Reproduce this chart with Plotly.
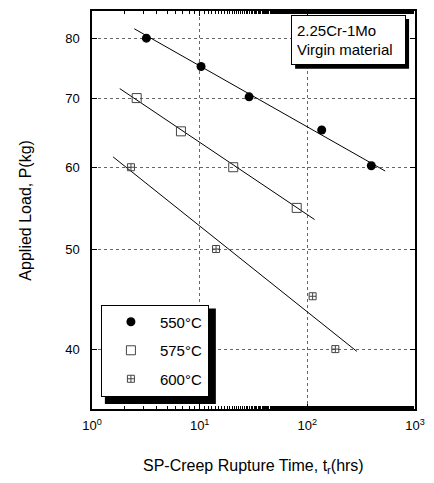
import math
import plotly.graph_objects as go

# ---- data ----
t550 = [3.2, 10.3, 28.8, 136, 393]
p550 = [80, 75.1, 70.2, 65.2, 60.2]
fit550_t = [2.47, 528]
fit550_p = [81.7, 59.5]

t575 = [2.6, 6.7, 20.5, 79.7]
p575 = [70, 65.0, 60, 54.8]
fit575_t = [1.81, 116.7]
fit575_p = [71.5, 53.4]

t600 = [2.3, 14.2, 112, 182]
p600 = [60, 50, 45.0, 40]
fit600_t = [1.57, 288]
fit600_p = [61.4, 39.8]

labels = ["550°C", "575°C", "600°C"]
x_ticks = [1, 10, 100, 1000]
x_ticktext = ["10<sup>0</sup>", "10<sup>1</sup>", "10<sup>2</sup>", "10<sup>3</sup>"]
y_ticks = [40, 50, 60, 70, 80]

FONT = "Liberation Sans, Arial, sans-serif"

fig = go.Figure()
for fx, fy in [(fit550_t, fit550_p), (fit575_t, fit575_p), (fit600_t, fit600_p)]:
    fig.add_trace(go.Scatter(x=fx, y=fy, mode="lines", line=dict(color="black", width=1),
                             showlegend=False, hoverinfo="skip"))

fig.add_trace(go.Scatter(x=t550, y=p550, mode="markers", name=labels[0], legendgroup="a",
                         marker=dict(symbol="circle", size=9, color="black")))
fig.add_trace(go.Scatter(x=t575, y=p575, mode="markers", name=labels[1], legendgroup="b",
                         marker=dict(symbol="square-open", size=9, color="#444",
                                     line=dict(width=1, color="#444"))))
fig.add_trace(go.Scatter(x=t600, y=p600, mode="markers", name=labels[2], legendgroup="c",
                         marker=dict(symbol="square-cross-open", size=7, color="#444",
                                     line=dict(width=1, color="#444"))))

L, R, T, B = 92, 16, 9, 74
W, H = 434, 483
pw, ph = W - L - R, H - T - B

def px2paper_x(px):
    return (px - L) / pw

def px2paper_y(py):
    return (H - B - py) / ph

fig.update_layout(
    width=W, height=H,
    margin=dict(l=L, r=R, t=T, b=B),
    paper_bgcolor="white", plot_bgcolor="white",
    font=dict(family=FONT, color="black", size=13),
    xaxis=dict(type="log", range=[0, 3], tickvals=x_ticks, ticktext=x_ticktext,
               ticks="inside", ticklen=5, tickcolor="black", showline=True, linecolor="black",
               linewidth=1.5, mirror="allticks", showgrid=True, gridcolor="#666",
               griddash="dot", gridwidth=1, zeroline=False,
               minor=dict(ticks="inside", ticklen=3, tickcolor="black", showgrid=False),
               tickfont=dict(size=13), ticklabelstandoff=4),
    yaxis=dict(type="log", range=[math.log10(35), math.log10(85)], tickvals=y_ticks,
               ticks="inside", ticklen=5, tickcolor="black", showline=True, linecolor="black",
               linewidth=1.5, mirror="allticks", showgrid=True, gridcolor="#666",
               griddash="dot", gridwidth=1, zeroline=False,
               tickfont=dict(size=13), ticklabelstandoff=8),
    legend=dict(x=px2paper_x(101), y=px2paper_y(304), xanchor="left", yanchor="top",
                bgcolor="white", bordercolor="black", borderwidth=1,
                font=dict(size=15), tracegroupgap=6, itemwidth=48,
                traceorder="grouped"),
    showlegend=True,
)

# shadows (drawn under legend / annotation boxes)
fig.add_shape(type="rect", xref="paper", yref="paper",
              x0=px2paper_x(105), x1=px2paper_x(217), y0=px2paper_y(404), y1=px2paper_y(308),
              fillcolor="black", line=dict(width=0), layer="above")
fig.add_shape(type="rect", xref="paper", yref="paper",
              x0=px2paper_x(297), x1=px2paper_x(412), y0=px2paper_y(67), y1=px2paper_y(17),
              fillcolor="black", line=dict(width=0), layer="above")

fig.add_annotation(xref="paper", yref="paper", x=px2paper_x(293), y=px2paper_y(13),
                   xanchor="left", yanchor="top", align="left", valign="middle",
                   width=103, height=38,
                   text="2.25Cr-1Mo<br>Virgin material", showarrow=False,
                   font=dict(size=15), bgcolor="white", bordercolor="black", borderwidth=1,
                   borderpad=5)

fig.add_annotation(xref="paper", yref="paper", x=0.5, y=px2paper_y(467),
                   xanchor="center", yanchor="middle",
                   text="SP-Creep Rupture Time, t<sub>r</sub>(hrs)", showarrow=False,
                   font=dict(size=16))
fig.add_annotation(xref="paper", yref="paper", x=px2paper_x(24), y=0.5,
                   xanchor="center", yanchor="middle", textangle=-90,
                   text="Applied Load, P(kg)", showarrow=False, font=dict(size=16))

fig.write_html("out.html", config={"displayModeBar": False},
               post_script="document.body.style.margin='0px';")
